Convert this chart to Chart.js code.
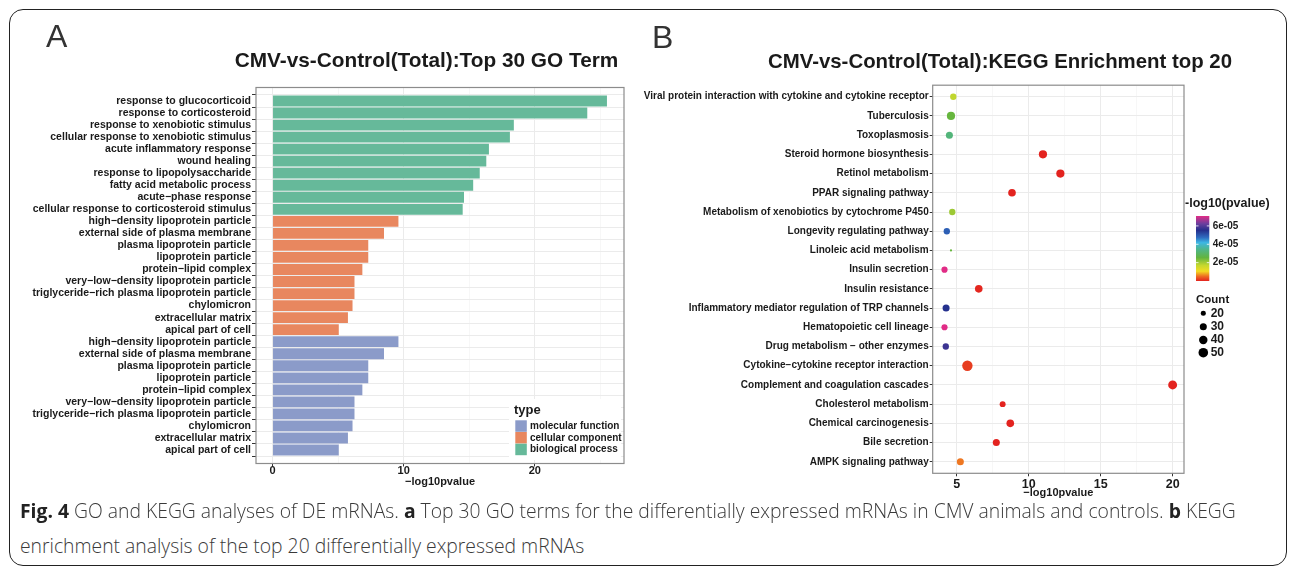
<!DOCTYPE html>
<html>
<head>
<meta charset="utf-8">
<title>GO and KEGG analyses of DE mRNAs</title>
<script src="https://cdn.jsdelivr.net/npm/chart.js"></script>
<style>
  html, body { margin: 0; padding: 0; background: #fff; }
  body { width: 1290px; height: 571px; position: relative; overflow: hidden; }
  #frame { position: absolute; left: 9px; top: 9px; width: 1278px; height: 557px;
           border: 1.5px solid #222; border-radius: 14px; box-sizing: border-box; }
  #goWrap { position: absolute; left: 0; top: 0; width: 640px; height: 500px; }
  #keggWrap { position: absolute; left: 640px; top: 0; width: 650px; height: 500px; }
  .cap { position: absolute; left: 20px; white-space: nowrap; color: #3a3a3a;
         font-family: "Open Sans", "Liberation Sans", sans-serif;
         font-stretch: normal; font-weight: 300;
         font-size: 20px; line-height: 24px; }
  .cap b { color: #222; font-weight: 700; }
</style>
</head>
<body>
<div id="frame"></div>
<div id="goWrap"><canvas id="goChart"></canvas></div>
<div id="keggWrap"><canvas id="keggChart"></canvas></div>
<div class="cap" id="cap1" style="top:499px"><b>Fig. 4</b> GO and KEGG analyses of DE mRNAs. <b>a</b> Top 30 GO terms for the differentially expressed mRNAs in CMV animals and controls. <b>b</b> KEGG</div>
<div class="cap" id="cap2" style="top:534px">enrichment analysis of the top 20 differentially expressed mRNAs</div>

<script>
// ---------- GO terms (-log10 p value) ----------
const bpTerms = [
  'response to glucocorticoid', 'response to corticosteroid', 'response to xenobiotic stimulus',
  'cellular response to xenobiotic stimulus', 'acute inflammatory response', 'wound healing',
  'response to lipopolysaccharide', 'fatty acid metabolic process', 'acute\u2212phase response',
  'cellular response to corticosteroid stimulus'
];
const bpScores = [25.5, 24.0, 18.4, 18.1, 16.5, 16.3, 15.8, 15.3, 14.6, 14.5];

const ccTerms = [
  'high\u2212density lipoprotein particle', 'external side of plasma membrane', 'plasma lipoprotein particle',
  'lipoprotein particle', 'protein\u2212lipid complex', 'very\u2212low\u2212density lipoprotein particle',
  'triglyceride\u2212rich plasma lipoprotein particle', 'chylomicron', 'extracellular matrix', 'apical part of cell'
];
const ccScores = [9.6, 8.5, 7.3, 7.3, 6.85, 6.25, 6.25, 6.1, 5.75, 5.05];

const mfTerms = [
  'high\u2212density lipoprotein particle', 'external side of plasma membrane', 'plasma lipoprotein particle',
  'lipoprotein particle', 'protein\u2212lipid complex', 'very\u2212low\u2212density lipoprotein particle',
  'triglyceride\u2212rich plasma lipoprotein particle', 'chylomicron', 'extracellular matrix', 'apical part of cell'
];
const mfScores = [9.6, 8.5, 7.3, 7.3, 6.85, 6.25, 6.25, 6.1, 5.75, 5.05];

const goTypeNames = ['molecular function', 'cellular component', 'biological process'];
const goMajorTicks = [0, 10, 20];
const goMinorTicks = [5, 15, 25];

// ---------- KEGG pathways ----------
const keggPathways = [
  'Viral protein interaction with cytokine and cytokine receptor', 'Tuberculosis', 'Toxoplasmosis',
  'Steroid hormone biosynthesis', 'Retinol metabolism', 'PPAR signaling pathway',
  'Metabolism of xenobiotics by cytochrome P450', 'Longevity regulating pathway', 'Linoleic acid metabolism',
  'Insulin secretion', 'Insulin resistance', 'Inflammatory mediator regulation of TRP channels',
  'Hematopoietic cell lineage', 'Drug metabolism \u2212 other enzymes', 'Cytokine\u2212cytokine receptor interaction',
  'Complement and coagulation cascades', 'Cholesterol metabolism', 'Chemical carcinogenesis',
  'Bile secretion', 'AMPK signaling pathway'
];
const keggLog10p = [4.76, 4.60, 4.49, 10.99, 12.2, 8.84, 4.69, 4.31, 4.60, 4.15,
                    6.53, 4.26, 4.15, 4.24, 5.74, 20.0, 8.19, 8.72, 7.75, 5.25];
const keggCount = [26, 38, 30, 38, 38, 34, 26, 26, 15, 25,
                   34, 30, 25, 26, 58, 44, 24, 34, 30, 30];

const keggMajorTicks = [5, 10, 15, 20];
const keggMinorTicks = [7.5, 12.5, 17.5];
const pvalueBreaks = [2e-05, 4e-05, 6e-05];
const pvalueBreakLabels = ['2e-05', '4e-05', '6e-05'];
const countBreaks = [20, 30, 40, 50];

// ---------- styles ----------
const FAM = '"Liberation Sans", Arial, Helvetica, sans-serif';
const INK = '#1a1a1a';
const typeColors = { 'molecular function': '#8B9BC9', 'cellular component': '#E8875F', 'biological process': '#66B99A' };
const GRID_MAJOR = '#EBEBEB';
const GRID_MINOR = '#F4F4F4';
const PANEL_BORDER = '#8c8c8c';

// rainbow ramp used for the p value colour scale (0 = smallest p)
const rampStops = [
  [0.00, '#E3231F'], [0.07, '#EE6A22'], [0.15, '#F2DC22'], [0.24, '#C5D82E'],
  [0.36, '#62B43F'], [0.49, '#4EB68E'], [0.59, '#3DB7E4'], [0.67, '#2F6BBF'],
  [0.78, '#252F8C'], [0.88, '#6A3F9E'], [1.00, '#E12C86']
];
function hexRgb(h) { return [1, 3, 5].map(i => parseInt(h.slice(i, i + 2), 16)); }
function rampColor(t) {
  t = Math.max(0, Math.min(1, t));
  for (let i = 1; i < rampStops.length; i++) {
    const [t1, c1] = rampStops[i];
    if (t <= t1) {
      const [t0, c0] = rampStops[i - 1];
      const f = (t - t0) / (t1 - t0);
      const a = hexRgb(c0), b = hexRgb(c1);
      return 'rgb(' + a.map((v, k) => Math.round(v + (b[k] - v) * f)).join(',') + ')';
    }
  }
  return rampStops[rampStops.length - 1][1];
}
const keggP = keggLog10p.map(v => Math.pow(10, -v));
const pMax = Math.max(...keggP);
const cMin = Math.min(...keggCount), cMax = Math.max(...keggCount);
// point area grows with Count
function countRadius(c) { return 1.1 + 4.1 * Math.sqrt((c - cMin) / (cMax - cMin)); }

function txt(ctx, s, x, y, font, align, color, baseline) {
  ctx.font = font; ctx.textAlign = align || 'left'; ctx.textBaseline = baseline || 'middle';
  ctx.fillStyle = color || INK; ctx.fillText(s, x, y);
}

// ---------- GO bar chart ----------
const goLabels = [...bpTerms, ...ccTerms, ...mfTerms];
const goSets = [
  { name: 'biological process', scores: bpScores, offset: 0 },
  { name: 'cellular component', scores: ccScores, offset: bpTerms.length },
  { name: 'molecular function', scores: mfScores, offset: bpTerms.length + ccTerms.length }
];

const goDecor = {
  id: 'goDecor',
  afterDraw(chart) {
    const { ctx, chartArea: a } = chart;
    ctx.save();
    ctx.strokeStyle = PANEL_BORDER; ctx.lineWidth = 1.2;
    ctx.strokeRect(a.left, a.top, a.right - a.left, a.bottom - a.top);

    // legend box inside the panel
    ctx.fillStyle = '#fff';
    ctx.fillRect(509, 399, 112, 61);
    txt(ctx, 'type', 514, 410, 'bold 13px ' + FAM);
    goTypeNames.forEach((n, i) => {
      const y = 420.3 + i * 11.7;
      ctx.fillStyle = typeColors[n];
      ctx.fillRect(515.3, y, 11.5, 11.5);
      txt(ctx, n, 530, y + 6, 'bold 10px ' + FAM);
    });

    txt(ctx, 'CMV-vs-Control(Total):Top 30 GO Term', 426.5, 61, 'bold 20.8px ' + FAM, 'center');
    txt(ctx, 'A', 46, 47, '32px ' + FAM, 'left', '#333', 'alphabetic');
    txt(ctx, '\u2212log10pvalue', (a.left + a.right) / 2, 482, 'bold 11px ' + FAM, 'center');
    ctx.restore();
  }
};

new Chart(document.getElementById('goChart'), {
  type: 'bar',
  data: {
    datasets: goSets.map(s => ({
      label: s.name,
      data: s.scores.map((v, i) => ({ x: v, y: s.offset + i })),
      backgroundColor: typeColors[s.name],
      borderWidth: 0,
      grouped: false,
      barPercentage: 0.9,
      categoryPercentage: 1
    }))
  },
  options: {
    indexAxis: 'y',
    responsive: true, maintainAspectRatio: false, animation: false, events: [],
    layout: { padding: { top: 87.5, right: 16, left: 0, bottom: 0 } },
    plugins: { legend: { display: false }, tooltip: { enabled: false }, title: { display: false } },
    scales: {
      x: {
        type: 'linear', min: -1.26, max: 26.8,
        afterBuildTicks: s => { s.ticks = [...goMajorTicks, ...goMinorTicks].sort((p, q) => p - q).map(v => ({ value: v })); },
        afterFit: s => { s.height = 36.5; },
        border: { display: false },
        grid: {
          color: c => goMajorTicks.includes(c.tick.value) ? GRID_MAJOR : GRID_MINOR,
          lineWidth: c => goMajorTicks.includes(c.tick.value) ? 1 : 0.7,
          tickColor: c => goMajorTicks.includes(c.tick.value) ? '#333' : 'rgba(0,0,0,0)',
          tickLength: 3, tickWidth: 1
        },
        ticks: {
          autoSkip: false, maxRotation: 0, padding: -2, color: INK,
          font: { family: FAM, size: 11, weight: 'bold' },
          callback: v => goMajorTicks.includes(v) ? String(v) : ''
        }
      },
      y: {
        type: 'linear', reverse: true, min: -0.6, max: goLabels.length - 0.4,
        afterBuildTicks: s => { s.ticks = goLabels.map((_, i) => ({ value: i })); },
        afterFit: s => { s.width = 256; },
        border: { display: false },
        grid: { color: GRID_MAJOR, lineWidth: 1, tickColor: '#333', tickLength: 4, tickWidth: 1 },
        ticks: {
          autoSkip: false, padding: 1, color: INK,
          font: { family: FAM, size: 10.5, weight: 'bold' },
          callback: v => goLabels[v]
        }
      }
    }
  },
  plugins: [goDecor]
});

// ---------- KEGG dot chart ----------
const keggDecor = {
  id: 'keggDecor',
  afterDraw(chart) {
    const { ctx, chartArea: a } = chart;
    ctx.save();
    ctx.strokeStyle = PANEL_BORDER; ctx.lineWidth = 1.2;
    ctx.strokeRect(a.left, a.top, a.right - a.left, a.bottom - a.top);

    txt(ctx, 'CMV-vs-Control(Total):KEGG Enrichment top 20', 360, 62, 'bold 20.4px ' + FAM, 'center');
    txt(ctx, 'B', 12, 48, '32px ' + FAM, 'left', '#333', 'alphabetic');
    txt(ctx, '\u2212log10pvalue', (a.left + a.right) / 2, 493.3, 'bold 11px ' + FAM, 'center');

    // colour bar for p value
    const bx = 556, bw = 13.3, bTop = 216, bBot = 281;
    txt(ctx, '-log10(pvalue)', 545, 203.3, 'bold 12.5px ' + FAM);
    const g = ctx.createLinearGradient(0, bBot, 0, bTop);
    rampStops.forEach(([t, c]) => g.addColorStop(t, c));
    ctx.fillStyle = g;
    ctx.fillRect(bx, bTop, bw, bBot - bTop);
    ctx.strokeStyle = '#fff'; ctx.lineWidth = 0.8;
    pvalueBreaks.forEach((p, i) => {
      const y = bBot - (p / pMax) * (bBot - bTop);
      ctx.beginPath();
      ctx.moveTo(bx, y); ctx.lineTo(bx + 2.5, y);
      ctx.moveTo(bx + bw - 2.5, y); ctx.lineTo(bx + bw, y);
      ctx.stroke();
      txt(ctx, pvalueBreakLabels[i], 572.7, y, 'bold 10px ' + FAM);
    });

    // size legend for Count
    txt(ctx, 'Count', 556, 300, 'bold 11.5px ' + FAM);
    const rowY = [313.3, 326.7, 340, 352.7];
    countBreaks.forEach((c, i) => {
      ctx.fillStyle = '#000';
      ctx.beginPath(); ctx.arc(563.3, rowY[i], countRadius(c), 0, Math.PI * 2); ctx.fill();
      txt(ctx, String(c), 570.7, rowY[i], 'bold 12px ' + FAM);
    });
    ctx.restore();
  }
};

new Chart(document.getElementById('keggChart'), {
  type: 'scatter',
  data: {
    datasets: [{
      data: keggPathways.map((_, i) => ({ x: keggLog10p[i], y: i })),
      pointRadius: c => countRadius(keggCount[c.dataIndex]),
      pointBackgroundColor: c => rampColor(keggP[c.dataIndex] / pMax),
      pointBorderWidth: 0,
      pointBorderColor: 'rgba(0,0,0,0)'
    }]
  },
  options: {
    responsive: true, maintainAspectRatio: false, animation: false, events: [],
    layout: { padding: { top: 85.2, right: 106, left: 0, bottom: 0 } },
    plugins: { legend: { display: false }, tooltip: { enabled: false }, title: { display: false } },
    scales: {
      x: {
        type: 'linear', min: 3.33, max: 20.79,
        afterBuildTicks: s => { s.ticks = [...keggMajorTicks, ...keggMinorTicks].sort((p, q) => p - q).map(v => ({ value: v })); },
        afterFit: s => { s.height = 26.7; },
        border: { display: false },
        grid: {
          color: c => keggMajorTicks.includes(c.tick.value) ? GRID_MAJOR : GRID_MINOR,
          lineWidth: c => keggMajorTicks.includes(c.tick.value) ? 1 : 0.7,
          tickColor: c => keggMajorTicks.includes(c.tick.value) ? '#333' : 'rgba(0,0,0,0)',
          tickLength: 3, tickWidth: 1
        },
        ticks: {
          autoSkip: false, maxRotation: 0, padding: 1, color: INK,
          font: { family: FAM, size: 12.5, weight: 'bold' },
          callback: v => keggMajorTicks.includes(v) ? String(v) : ''
        }
      },
      y: {
        type: 'linear', reverse: true, min: -0.6, max: keggPathways.length - 0.4,
        afterBuildTicks: s => { s.ticks = keggPathways.map((_, i) => ({ value: i })); },
        afterFit: s => { s.width = 292.7; },
        border: { display: false },
        grid: { color: GRID_MAJOR, lineWidth: 1, tickColor: '#333', tickLength: 3, tickWidth: 1 },
        ticks: {
          autoSkip: false, padding: 1, color: INK,
          font: { family: FAM, size: 10, weight: 'bold' },
          callback: v => keggPathways[v]
        }
      }
    }
  },
  plugins: [keggDecor]
});

// caption: fit the first line to the figure width
(function fitCaption() {
  const c1 = document.getElementById('cap1'), c2 = document.getElementById('cap2');
  const w = c1.scrollWidth;
  if (w > 0) {
    const size = 20 * 1217 / w;
    c1.style.fontSize = size + 'px';
    c2.style.fontSize = size + 'px';
  }
})();
</script>
</body>
</html>
